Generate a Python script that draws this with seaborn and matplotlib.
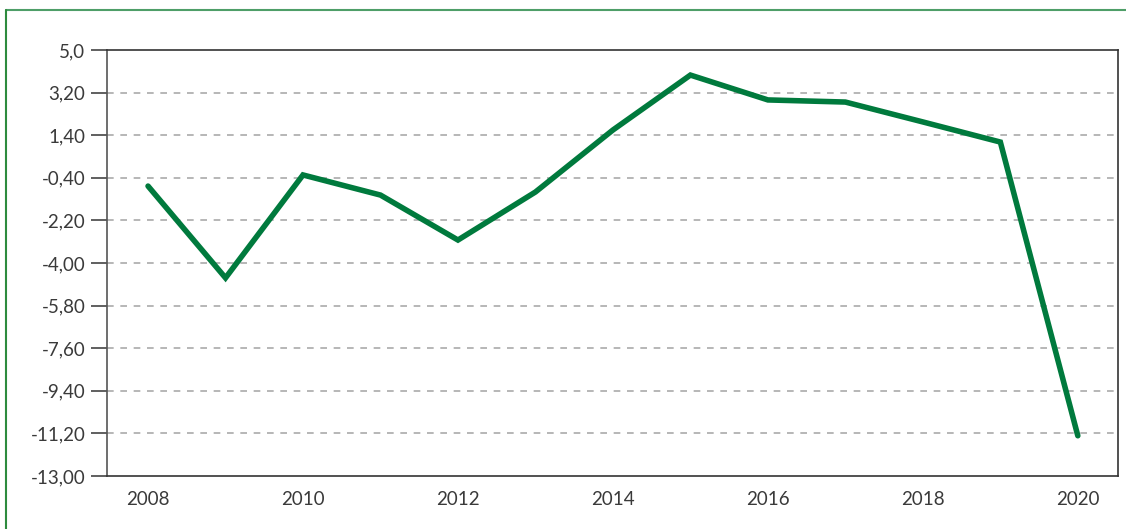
import matplotlib
matplotlib.use("Agg")
import matplotlib.pyplot as plt
import seaborn as sns
import pandas as pd
from matplotlib.lines import Line2D

years = [2008, 2009, 2010, 2011, 2012, 2013, 2014, 2015, 2016, 2017, 2018, 2019, 2020]
values = [-0.75, -4.63, -0.28, -1.13, -3.03, -1.0, 1.62, 3.94, 2.89, 2.8, 1.96, 1.11, -11.3]
y_ticks = [5.0, 3.2, 1.4, -0.4, -2.2, -4.0, -5.8, -7.6, -9.4, -11.2, -13.0]
y_labels = ["5,0", "3,20", "1,40", "-0,40", "-2,20", "-4,00", "-5,80", "-7,60", "-9,40", "-11,20", "-13,00"]
x_ticks = [2008, 2010, 2012, 2014, 2016, 2018, 2020]

df = pd.DataFrame({"year": years, "value": values})

sns.set_style("white")
plt.rcParams["font.family"] = ["Lato", "DejaVu Sans"]

fig = plt.figure(figsize=(11.26, 5.29), dpi=100)
ax = fig.add_axes([0.095, 0.1002, 0.898, 0.8053])

sns.lineplot(data=df, x="year", y="value", color="#007a3d", linewidth=4, ax=ax,
             solid_capstyle="round", solid_joinstyle="miter")

ax.set_xlim(2007.47, 2020.52)
ax.set_ylim(-13, 5)
ax.set_yticks(y_ticks)
ax.set_yticklabels(y_labels)
ax.set_xticks(x_ticks)
ax.set_xticklabels([str(x) for x in x_ticks])
ax.set_xlabel("")
ax.set_ylabel("")

for t in y_ticks[1:-1]:
    ax.axhline(t, color="#aaaaaa", linestyle=(0, (4, 4)), linewidth=1.2, zorder=0)

ax.tick_params(axis="y", length=11.5, width=1.2, color="#444444", direction="out",
               labelsize=13.5, labelcolor="#3a3a3a", pad=4, left=True)
ax.tick_params(axis="x", length=0, labelsize=13.5, labelcolor="#3a3a3a", pad=11, bottom=False)

for side in ["top", "right", "bottom", "left"]:
    ax.spines[side].set_visible(True)
    ax.spines[side].set_color("#333333")
    ax.spines[side].set_linewidth(1.2)
ax.spines["left"].set_color("#555555")

# green frame lines
fig.add_artist(Line2D([6 / 1126, 1.0], [1 - 10 / 529, 1 - 10 / 529], color="#4e9e68", linewidth=1.5,
                      transform=fig.transFigure))
fig.add_artist(Line2D([6 / 1126, 6 / 1126], [0, 1 - 10 / 529], color="#2e8b3e", linewidth=1.5,
                      transform=fig.transFigure))

fig.savefig("out.png", dpi=100)
